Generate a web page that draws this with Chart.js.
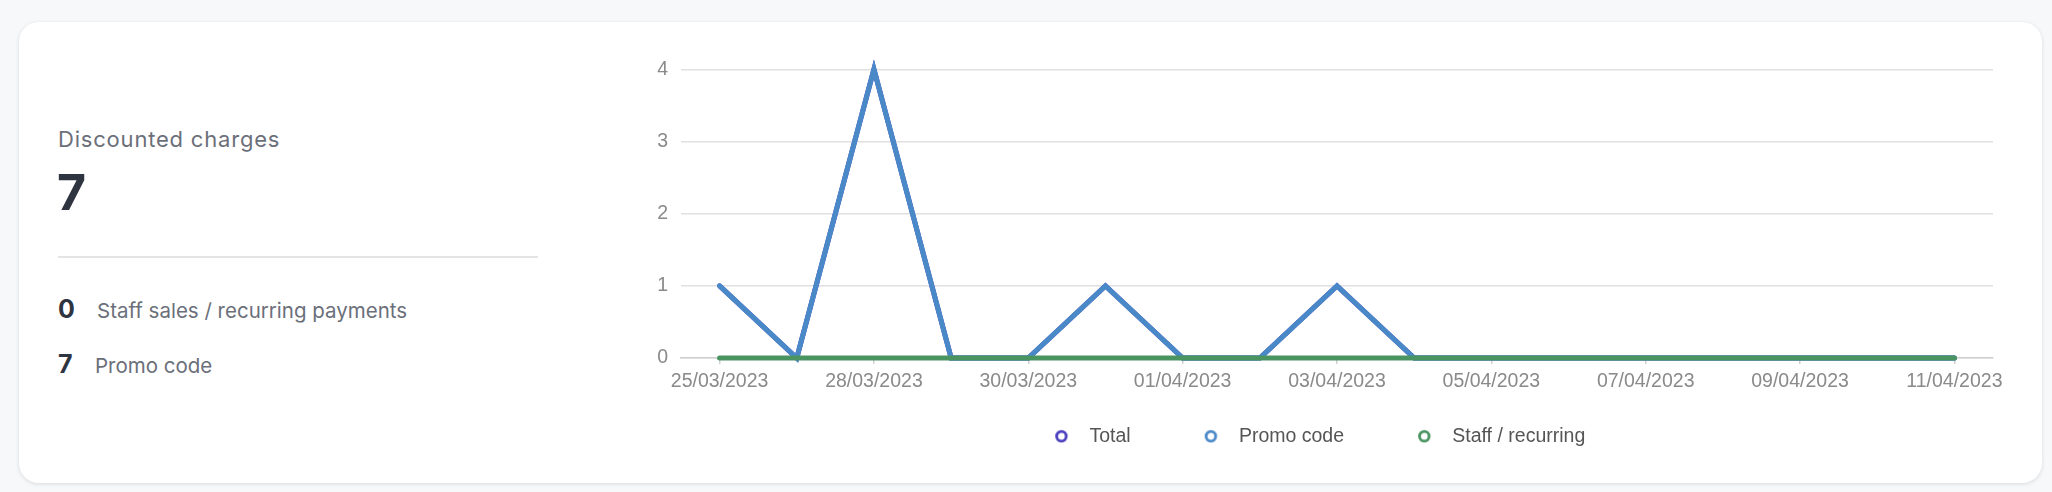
<!DOCTYPE html>
<html>
<head>
<meta charset="utf-8">
<script src="https://cdn.jsdelivr.net/npm/chart.js@4.4.0/dist/chart.umd.min.js"></script>
<style>
  html, body { margin: 0; padding: 0; background: #f7f8fa; }
  body { width: 2052px; height: 492px; position: relative; overflow: hidden; font-family: 'Inter', sans-serif; }
  .card {
    position: absolute; left: 19px; top: 22px; width: 2023px; height: 461px;
    background: #fff; border-radius: 20px;
    box-shadow: 0 1px 4px rgba(0, 0, 0, 0.12);
  }
  .txt { position: absolute; line-height: 1; white-space: nowrap; }
  .muted { color: #6b6f7a; font-size: 20.5px; }
  .num { color: #2f3441; font-weight: 700; }
  .divider { position: absolute; left: 58px; top: 256px; width: 480px; height: 1.5px; background: #e4e4e6; }
  #chartBox { position: absolute; left: 603px; top: 40px; width: 1410px; height: 416px; }
</style>
</head>
<body>
<div class="card"></div>
<div class="txt muted" style="left:58px; top:127.7px; font-size:22px; letter-spacing:0.8px;">Discounted charges</div>
<div class="txt num" style="left:57px; top:166.8px; font-size:50px;">7</div>
<div class="divider"></div>
<div class="txt num" style="left:58px; top:296.7px; font-size:25px;">0</div>
<div class="txt muted" style="left:97px; top:300.6px;">Staff sales / recurring payments</div>
<div class="txt num" style="left:58px; top:352.4px; font-size:25px;">7</div>
<div class="txt muted" style="left:95px; top:356.3px;">Promo code</div>
<div id="chartBox"><canvas id="myChart"></canvas></div>
<script>
// chart data
const dates = ['25/03/2023', '27/03/2023', '28/03/2023', '29/03/2023', '30/03/2023', '31/03/2023',
  '01/04/2023', '02/04/2023', '03/04/2023', '04/04/2023', '05/04/2023', '06/04/2023',
  '07/04/2023', '08/04/2023', '09/04/2023', '10/04/2023', '11/04/2023'];
const totalCounts = [1, 0, 4, 0, 0, 1, 0, 0, 1, 0, 0, 0, 0, 0, 0, 0, 0];
const promoCounts = [1, 0, 4, 0, 0, 1, 0, 0, 1, 0, 0, 0, 0, 0, 0, 0, 0];
const staffCounts = [0, 0, 0, 0, 0, 0, 0, 0, 0, 0, 0, 0, 0, 0, 0, 0, 0];
const yTicks = [0, 1, 2, 3, 4];

const colors = { total: '#4a3ebf', promo: '#4a89c8', staff: '#4a9462' };

// hollow circle for the legend, placed right of the image centre so the
// gap to the label matches the original
function legendDot(color) {
  const c = document.createElement('canvas');
  c.width = 50;
  c.height = 16;
  const g = c.getContext('2d');
  g.beginPath();
  g.arc(41.2, 8, 4.8, 0, Math.PI * 2);
  g.fillStyle = '#fff';
  g.fill();
  g.lineWidth = 2.8;
  g.strokeStyle = color;
  g.stroke();
  return c;
}
const dots = [legendDot(colors.total), legendDot(colors.promo), legendDot(colors.staff)];

const lineStyle = { borderWidth: 5, pointRadius: 0, pointHoverRadius: 0, tension: 0, borderCapStyle: 'round', fill: false, clip: false };

const ctx = document.getElementById('myChart').getContext('2d');
new Chart(ctx, {
  type: 'line',
  data: {
    labels: dates,
    datasets: [
      { label: 'Total', data: totalCounts, borderColor: colors.total, backgroundColor: colors.total, order: 3, ...lineStyle },
      { label: 'Promo code', data: promoCounts, borderColor: colors.promo, backgroundColor: colors.promo, order: 2, ...lineStyle },
      { label: 'Staff / recurring', data: staffCounts, borderColor: colors.staff, backgroundColor: colors.staff, order: 1, ...lineStyle },
    ],
  },
  options: {
    responsive: true,
    maintainAspectRatio: false,
    animation: false,
    layout: { padding: { top: 29.3, left: 0, right: 20, bottom: 0 } },
    plugins: {
      tooltip: { enabled: false },
      legend: {
        position: 'bottom',
        reverse: true,
        maxHeight: 59,
        labels: {
          usePointStyle: true,
          pointStyleWidth: 68.95,
          padding: 29.55,
          color: '#555',
          font: { size: 19.5 },
          generateLabels: (chart) => {
            const items = Chart.defaults.plugins.legend.labels.generateLabels(chart);
            items.forEach(it => { it.pointStyle = dots[it.datasetIndex]; });
            return items;
          },
        },
      },
    },
    scales: {
      x: {
        offset: true,
        grid: { display: true, drawOnChartArea: false, drawTicks: true, tickLength: 6, color: '#cfcfcf', lineWidth: 1.5, offset: false },
        border: { display: true, color: '#cfcfcf', width: 1.5 },
        ticks: { autoSkip: false, maxRotation: 0, padding: 6, color: '#8a8a8a', font: { size: 19.5 } },
        // only every second date gets a label and a tick mark
        afterBuildTicks: (s) => { s.ticks = s.ticks.filter((t, i) => i % 2 === 0); },
        afterFit: (s) => { s.height = 39; s.paddingLeft = 0; s.paddingRight = 0; },
      },
      y: {
        min: yTicks[0],
        max: yTicks[yTicks.length - 1],
        afterBuildTicks: (s) => { s.ticks = yTicks.map(v => ({ value: v })); },
        grid: { color: '#e0e0e0', lineWidth: 1.5, drawTicks: false },
        border: { display: false },
        ticks: { padding: 13, color: '#8a8a8a', font: { size: 19.5 } },
        afterFit: (s) => { s.width = 78; s.paddingTop = 0; s.paddingBottom = 0; },
      },
    },
  },
});
</script>
</body>
</html>
